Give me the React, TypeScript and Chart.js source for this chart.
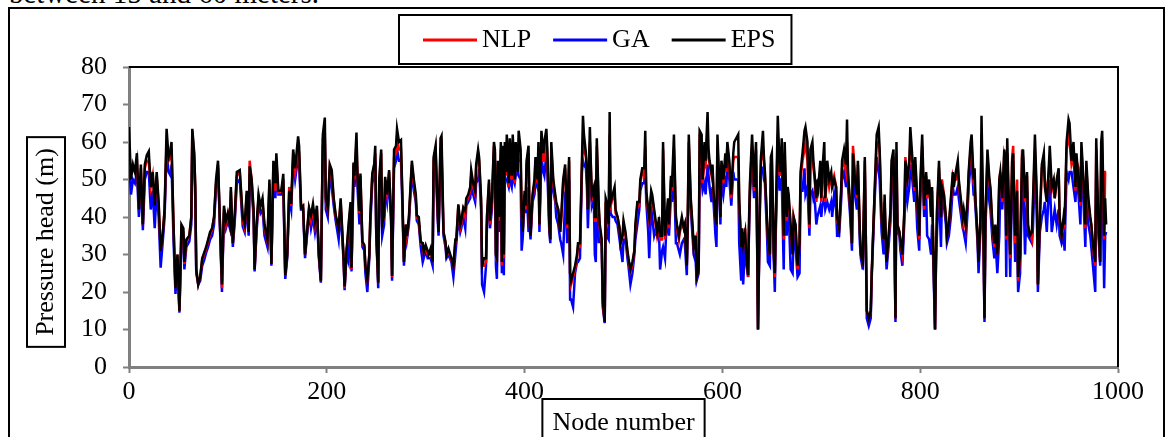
import React, { useEffect, useRef } from "react";
import { Chart, registerables } from "chart.js";

Chart.register(...registerables);

// Node numbers (x) at which the three pressure-head series were read
const NODES = [
  0,2,4,6,8,10,12,14,16,18,20,22,24,26,28,30,32,34,36,38,40,42,43,45,47,49,51,53,55,56,58,61,63,64,66,67,68,70,72,74,76,78,80,82,84,86,88,90,92,94,96,98,100,102,103,105,107,109,
  112,115,117,119,121,122,124,126,127,129,131,133,135,137,140,142,144,146,148,149,151,154,156,158,160,162,164,166,168,171,172,174,176,178,180,182,184,186,188,190,192,194,196,198,199,201,203,205,207,209,212,214,217,218,
  220,222,224,225,227,228,230,231,233,234,236,238,239,241,243,244,246,248,249,250,252,253,255,256,258,259,261,263,265,266,268,270,271,273,275,276,278,280,281,283,285,286,288,290,291,293,295,297,298,300,302,303,305,307,308,310,312,313,315,316,318,320,321,323,326,328,
  330,331,333,335,336,338,340,341,343,345,346,348,350,351,353,354,356,357,359,361,362,364,365,367,369,370,371,372,373,374,376,377,378,379,380,381,382,384,385,387,388,390,391,393,394,396,397,398,400,401,402,404,405,406,408,410,411,413,414,415,417,419,420,422,423,425,426,427,429,431,432,434,436,437,439,441,442,
  443,445,446,447,449,451,453,454,456,458,459,460,462,463,464,466,467,468,470,471,472,473,475,476,478,479,481,482,483,485,486,487,489,491,492,494,496,497,499,500,502,504,505,507,509,511,512,514,516,517,519,521,522,523,525,526,528,529,531,532,534,536,537,539,540,542,543,545,546,548,549,551,553,
  554,556,557,559,561,562,564,565,566,568,570,571,573,574,576,577,579,580,582,583,585,586,587,589,590,591,593,594,595,597,598,599,601,603,604,605,607,609,611,612,614,616,617,619,620,621,623,624,626,627,628,630,631,632,634,635,636,638,639,641,642,643,645,646,648,649,650,652,653,654,656,658,659,660,662,
  663,665,666,667,669,671,672,674,676,678,679,681,683,684,686,688,689,691,692,693,695,696,697,699,700,701,703,704,706,708,710,711,713,715,716,718,720,721,723,725,726,727,729,731,732,734,736,737,739,740,742,744,745,746,748,750,751,753,755,756,758,759,761,763,764,766,768,770,771,773,775,
  776,777,779,780,782,784,785,787,789,790,792,794,795,797,799,800,802,804,806,807,809,811,812,813,815,816,817,819,821,822,824,826,827,829,831,833,834,836,838,839,841,843,844,846,848,849,851,852,854,855,856,858,859,861,862,864,865,866,868,870,871,873,875,876,878,880,881,883,885,886,
  887,888,890,891,893,894,896,898,899,901,903,904,906,908,909,911,913,914,916,918,919,921,923,925,926,928,930,931,933,935,936,938,940,941,943,945,946,948,950,951,953,955,957,958,960,962,963,965,967,968,970,972,973,975,977,978,980,982,983,984,986,987,988,
];

const NLP = [
  58,52,53,52,55,42,53,38,53,55,55,48,51,43,51,43,31,35,42,60,55,56,58,38,21,30,15,37,36,27.5,33.5,35,40,63,56,48,26,22,24,28.5,30,31.5,33.5,35.5,36.5,40,49,54,38,21,42,38,41,38,47,33,40,51,
  52,39,37,46,36,55,50,41,26,37,45,43,44,37,33.5,49,27.5,54,47,55,46.5,47,50,24.5,30,48,43,57,52,59,57,42.5,43,30,36,42,39,42,38,42,30,23,61,62,44,42,53,51,44.5,40,37,44,29,21,
  31,37,43,26,54,50,60,51,41,51,33,32,27,23.3,30,40,51,53.5,57,36,22.5,49,57,38,40,50,46,52,40,24,56,57,61,58,58,49,28,38,35,39,49,54,49,45,40,39,33,33,30.5,32,30,30,31,28,55,58,42,36,58,59,36,33,30,31,28.5,27,
  33.5,34,43,37,38,42,40,44,45,47,51,48,46,53,57,55,44,27,27,28,40,49,38,44,59,57,30,28,54,39,58,27,57,29,58,51,58,48,59,50,58,49,58,57,55,55,41,36,46,42,54,57,39,35,45,49,55,49,58,38,60,55,55,61,56,38,34,58,49,45,43,42,36,39,49,53,45,
  37,55,25,22,24,26,29,32,32,54,60,58,56,51,42,60,53,45,47,39,39,59,42,37,33,17,12,44,42,38,62,43,45,46,41,40,37,33,35,38,35,30.5,28.5,25.5,27,31,37,43,43,49,52,51,59,46,41,39,46,45,41,39,35,38,34,34,58,34,37,44,37,50,47,58,40,
  37,34,36,38,37,38,27,39,60,44,36,32,34,24,26,60,58,49,55,54,60,56,54,51,53,46,40,38,59,47,40,54,49,55,52,59,53,45,55,56,56,56,44,32,36,32,37,30,24,39,49,59,53,47,58,37,10,45,55,58,55,51,39,34,30,54,55,30,24,39,62,51,53,55,34,
  56,39,47,45,37,30,40,37,26,33,50,55,58,60,55,37,55,57,53,51,44,49,50,51,44,50,52,44,52,48,51,49,51,48,39,37,46,53,55,52,60,51,43,33,59,52,45,54,36,30,28,55,35,15,13,15,25,40,53,60,60,57,39,34,44,28,34,41,53,56,13,
  57,38,36,33,30,41,56,50,53,60,55,47,54,44,34,47,59,42,51,45,49,40,47,35,10,30,41,53,40,50,46,40,35,38,44,51,50,50,53,49,44,39,41,37,44,51,58,59,49,48,44,35,28,39,62,34,13,40,56,49,47,37,32,37,30,50,52,44,57,56,
  34,57,39,29,56,59,33,50,23,29,58,56,44,51,37,36,34,43,58,44,22,39,53,55,50,45,52,56,47,49,45,49,52,39,35,39,38,58,62,60,54,56,47,55,53,43,58,49,37,53,44,39,38,31,27,58,39,28,58,59,34,52,52,
];

const GA = [
  55,46,50,49,52,40,50,36.5,50,52,52,42,47,37,47,40,26.5,33,40,58,52,51,54,34,19.5,28,14.5,34,34,26,32,33.5,38,60,53,45,25,22,23,27,28.5,30.5,32,34,35,38,48,53,37,20,41,37,39,37,45,32,39,49,
  50,37.5,36,43,35,49,47,40,25.5,36,44,41,42,35,32,47,27,52,45,52,46,46,48,23.5,29,45,42,55,50,56,54,42,42,29,35,41,37,40,36,40,29,22.5,59,60,42,40,51,48,43,39,34,42,28,20.5,
  30,28,41,25.5,51,48,57,48,38,48,32,31,25,20,29,38,49,51,55,35,21,47,45,35,38,48,44,50,39,23,53,55,58,55,55,47,27,37,34,38,48,52,47,44,39,38,32,28,29,31,29,29,29,27,52,55,40,35,55,56,35,32,29,30,28,24,
  30,33,40,36,37,40,37,43,44,45,48,46,44,49,50,53,42,22,20,27,38,47,37,42,57,55,27,23.5,50,36,54,25,52,24.5,51,50,50,48,50,48,51,49,51,52,51,50,31,34,44,41,48,36,38,34,44,46,50,48,54,36,56,52,51,57,52,36,33,54,47,44,40,38,34,33,30,45,44,
  33,50,18,18,16,25,28,28,29,52,55,54,53,48,37,53,50,43,45,30,28,50,33,36,32,16,11.7,40,35,34,48,41,40,40,39,38,34,32,28,34,34,29,27,22,25,30,34,38,42,47,49,49,55,44,36,29,43,40,35,36,35,35,26,31,32,29,35,40,35,46,44,52,33,
  33,31,30,33,34,33,24.5,37,55,42,34,30,28,23,25,53,50,47,49,46,54,51,48,44,48,44,35,32,54,46,38,50,46,51,48,55,50,43,52,50,50,50,33,23,35,22,33,28,24,37,47,55,50,45,54,35,10,43,52,53,50,49,36,28,27,46,50,28,20,36,55,47,50,50,26,
  48,35,43,42,26,25,35,32,24,25,47,47,53,46,48,35,46,47,45,46,38,40,41,43,40,43,45,42,44,42,44,40,46,42,35,35,44,50,52,48,52,48,41,31,51,46,42,50,33,29,26,52,33,13,11,13,24,38,51,56,52,50,36,30,40,26,32,39,50,53,12,
  52,36,35,31,27,39,50,44,48,54,50,44,50,37,31,44,55,40,47,35,34,30,38,30,10,28,36,48,32,46,43,38,33,35,40,48,46,46,48,45,41,37,36,33,42,48,54,55,46,46,42,33,25,37,57,32,12,38,50,44,42,34,29,34,25,35,48,42,52,50,
  24,52,36,24,50,52,28,34,20,25,50,52,30,47,35,34,33,37,53,40,20,36,40,42,44,36,47,50,36,40,42,38,42,35,33,35,31,52,50,52,52,48,44,51,46,38,53,45,32,48,38,35,32,26,20,52,36,27,52,54,21,35,36,
];

const EPS = [
  64,50,54,52,57,42,54,38,54,56.5,57.5,48,52,43,52,44,31,35,42,63.5,56,58,60,38,21,30,15,38,37,28,34,35,40,63.5,57,48,26,22,24,29,30.5,32,34,36,37,40,50,55,38,22,43,39,41,38,48,33,41,52,
  52.5,40,38,47,36,53.5,50,42,26,38,46,43,45,38,34,50,27.5,55,49,57,47,47,51.5,24.5,30,47,43.5,58,53,61.5,59,42.5,43,30,36,42.5,40.5,43.5,39,43,30,23,62,66.5,45,42.5,54,52.5,45,40.5,37,45,29,21.5,
  31,38,44,26.5,54.5,51,62.5,51.6,41.6,51.6,33.4,32.5,27,23.4,30,40,51.6,54.3,59,36,22.5,50,58,38,40.5,50.7,46,52.5,40,24.3,58,59,63.5,60,60.5,50,28,38,35,40,50,55,50,46,40.5,40,33.4,33,30.7,32.5,31,30,31.6,28,56,59,42.5,36,61,61.6,36,33.4,30,31.6,29,27,
  34,34,43.4,38,39,42.5,41.6,45,46,48,52.5,49,47,54,58,56,45,27,29,29,40.5,50,39,45,60,58,30,29,55,40,60,28,59,30,60,52,62,49,61,51,62,50,60,52,63,58,42,36,47,43,55,59,40,35,46,50,56,50,60,38,63,57,60,63.5,58,38,34,60,50,46,44,42,36,40,50,54,46,
  38,56,25,23,25,27,30,33,33,55,67,62,57,52,42,64,54,46,48,40,40,61,43,38,34,18,12,45,44,38,68,44,46,48,42,40,37,33,35,39,36,31,29,26,28,31,38,44,44,50,53,53,63,47,42,40,47,46,42,40,36,40,35,35,60,35,38,45,38,51,48,62,40,
  38,35,37,40,37,38,27,40,62,45,37,32,35,24,26,63,62,50,60,55,68,58,55,52,54,47,40,38,62,48,40,55,50,57,53,60,55,46,57,60,61,62,45,32,37,33,36,30,24.5,40,50,62,56,48,60,38,10,46,56,63,56,52,40,35,30,56,57,30,25,40,67,52,54,61,35,
  60,40,48,46,38,30,40,38,27,33,52,57,63,64,60,38,58,60,55,52,45,50,48,55,45,52,60,45,55,50,52,48,50,48,40,37,47,55,58,54,66,52,44,33,57,50,46,55,36,30,28,56,35,15,13,15,25,40,55,62,64,58,40,34,46,28,35,42,55,58,13,
  60,38,36,34,30,42,55,50,55,64,56,48,56,45,35,48,62,43,52,46,50,40,48,35,10,30,42,55,40,48,46,40,35,38,45,52,48,52,55,50,45,40,42,38,45,52,60,62,50,53,44,35,28,40,67,35,13,40,58,50,48,38,33,38,30,50,52,45,58,55,
  35,61,40,30,55,57,35,47,24,30,56,58,45,52,38,35,36,44,62,45,22,40,54,57,48,44,53,59,48,50,45,50,53,40,35,40,38,60,66,65,55,60,48,57,50,44,60,50,38,55,45,40,38,32,28,61,40,28,60,63,35,45,38,
];

const SERIES_LABELS = ["NLP", "GA", "EPS"];
const SERIES_COLORS = ["#ff0000", "#0000ff", "#000000"];
const X_MIN = 0;
const X_MAX = 1000;
const X_STEP = 200;
const Y_MIN = 0;
const Y_MAX = 80;
const Y_STEP = 10;
const X_TITLE = "Node number";
const Y_TITLE = "Pressure head (m)";
const CAPTION = "between 15 and 60 meters.";

const FONT = '"Liberation Serif", "Times New Roman", Times, serif';

export default function App() {
  const ref = useRef<HTMLCanvasElement | null>(null);

  useEffect(() => {
    const canvas = ref.current;
    if (!canvas) return;
    const series = [NLP, GA, EPS];
    const orders = [1, 2, 0];

    const framePlugin = {
      id: "frameAndTitles",
      afterDraw(chart: any) {
        const ctx = chart.ctx as CanvasRenderingContext2D;
        const a = chart.chartArea;
        ctx.save();
        // plot area top/right border
        ctx.strokeStyle = "#000";
        ctx.lineWidth = 2;
        ctx.beginPath();
        ctx.moveTo(a.left, a.top);
        ctx.lineTo(a.right, a.top);
        ctx.lineTo(a.right, a.bottom);
        ctx.stroke();

        // legend
        ctx.font = `26px ${FONT}`;
        ctx.textBaseline = "middle";
        ctx.textAlign = "left";
        const ly = 33;
        let x = 415;
        chart.data.datasets.forEach((ds: any) => {
          ctx.strokeStyle = ds.borderColor;
          ctx.lineWidth = 3;
          ctx.beginPath();
          ctx.moveTo(x, ly);
          ctx.lineTo(x + 54, ly);
          ctx.stroke();
          ctx.fillStyle = "#000";
          ctx.fillText(ds.label, x + 59, ly);
          x += 59 + ctx.measureText(ds.label).width + 22;
        });
        const legRight = x - 22 + 16;
        ctx.strokeStyle = "#000";
        ctx.lineWidth = 2;
        ctx.strokeRect(391, 8, legRight - 391, 49);

        // y title (rotated, boxed)
        const yw = ctx.measureText(Y_TITLE).width;
        const ycx = a.left - 83;
        const ycy = a.top + 175;
        ctx.strokeRect(ycx - 19, ycy - yw / 2 - 11, 38, yw + 22);
        ctx.save();
        ctx.translate(ycx, ycy);
        ctx.rotate(-Math.PI / 2);
        ctx.textAlign = "center";
        ctx.textBaseline = "middle";
        ctx.fillStyle = "#000";
        ctx.fillText(Y_TITLE, 0, 0);
        ctx.restore();

        // x title (boxed)
        const xw = ctx.measureText(X_TITLE).width;
        const xcx = (a.left + a.right) / 2;
        ctx.strokeRect(xcx - xw / 2 - 10, a.bottom + 32, xw + 20, 60);
        ctx.textAlign = "center";
        ctx.textBaseline = "alphabetic";
        ctx.fillStyle = "#000";
        ctx.fillText(X_TITLE, xcx, a.bottom + 63);
        ctx.restore();
      },
    };

    const chart = new Chart(canvas, {
      type: "line",
      data: {
        datasets: SERIES_LABELS.map((label, k) => ({
          label,
          data: NODES.map((n, i) => ({ x: n, y: series[k][i] })),
          borderColor: SERIES_COLORS[k],
          backgroundColor: SERIES_COLORS[k],
          borderWidth: 2.5,
          pointRadius: 0,
          tension: 0,
          fill: false,
          order: orders[k],
        })),
      },
      options: {
        animation: false,
        responsive: false,
        maintainAspectRatio: false,
        layout: { padding: { left: 0, top: 60, right: 47, bottom: 0 } },
        plugins: {
          legend: { display: false },
          tooltip: { enabled: false },
          title: { display: false },
        },
        scales: {
          x: {
            type: "linear",
            min: X_MIN,
            max: X_MAX,
            afterFit: (s: any) => {
              s.height = 70;
            },
            ticks: {
              stepSize: X_STEP,
              color: "#000",
              padding: 4,
              maxRotation: 0,
              font: { family: FONT, size: 26 },
              callback: (v: any) => String(v),
            },
            grid: {
              drawOnChartArea: false,
              drawTicks: true,
              tickLength: 6,
              tickColor: "#808080",
              tickWidth: 2,
            },
            border: { display: true, color: "#808080", width: 3 },
          },
          y: {
            type: "linear",
            min: Y_MIN,
            max: Y_MAX,
            afterFit: (s: any) => {
              s.width = 121;
            },
            ticks: {
              stepSize: Y_STEP,
              color: "#000",
              padding: 16,
              font: { family: FONT, size: 26 },
              callback: (v: any) => String(v),
            },
            grid: {
              drawOnChartArea: false,
              drawTicks: true,
              tickLength: 6,
              tickColor: "#808080",
              tickWidth: 2,
            },
            border: { display: true, color: "#808080", width: 3 },
          },
        },
      },
      plugins: [framePlugin],
    } as any);

    return () => chart.destroy();
  }, []);

  return (
    <div
      style={{
        position: "fixed",
        left: 0,
        top: 0,
        width: 1167,
        height: 437,
        overflow: "hidden",
        background: "#fff",
      }}
    >
      <div
        style={{
          position: "absolute",
          left: 9,
          top: -21,
          fontFamily: FONT,
          fontSize: 29,
          lineHeight: "29px",
          whiteSpace: "nowrap",
          color: "#000",
        }}
      >
        {CAPTION}
      </div>
      <div
        style={{
          position: "absolute",
          left: 8,
          top: 7,
          width: 1157,
          height: 470,
          border: "2px solid #000",
          boxSizing: "border-box",
        }}
      />
      <canvas
        ref={ref}
        width={1157}
        height={430}
        style={{ position: "absolute", left: 8, top: 7, width: 1157, height: 430 }}
      />
    </div>
  );
}
